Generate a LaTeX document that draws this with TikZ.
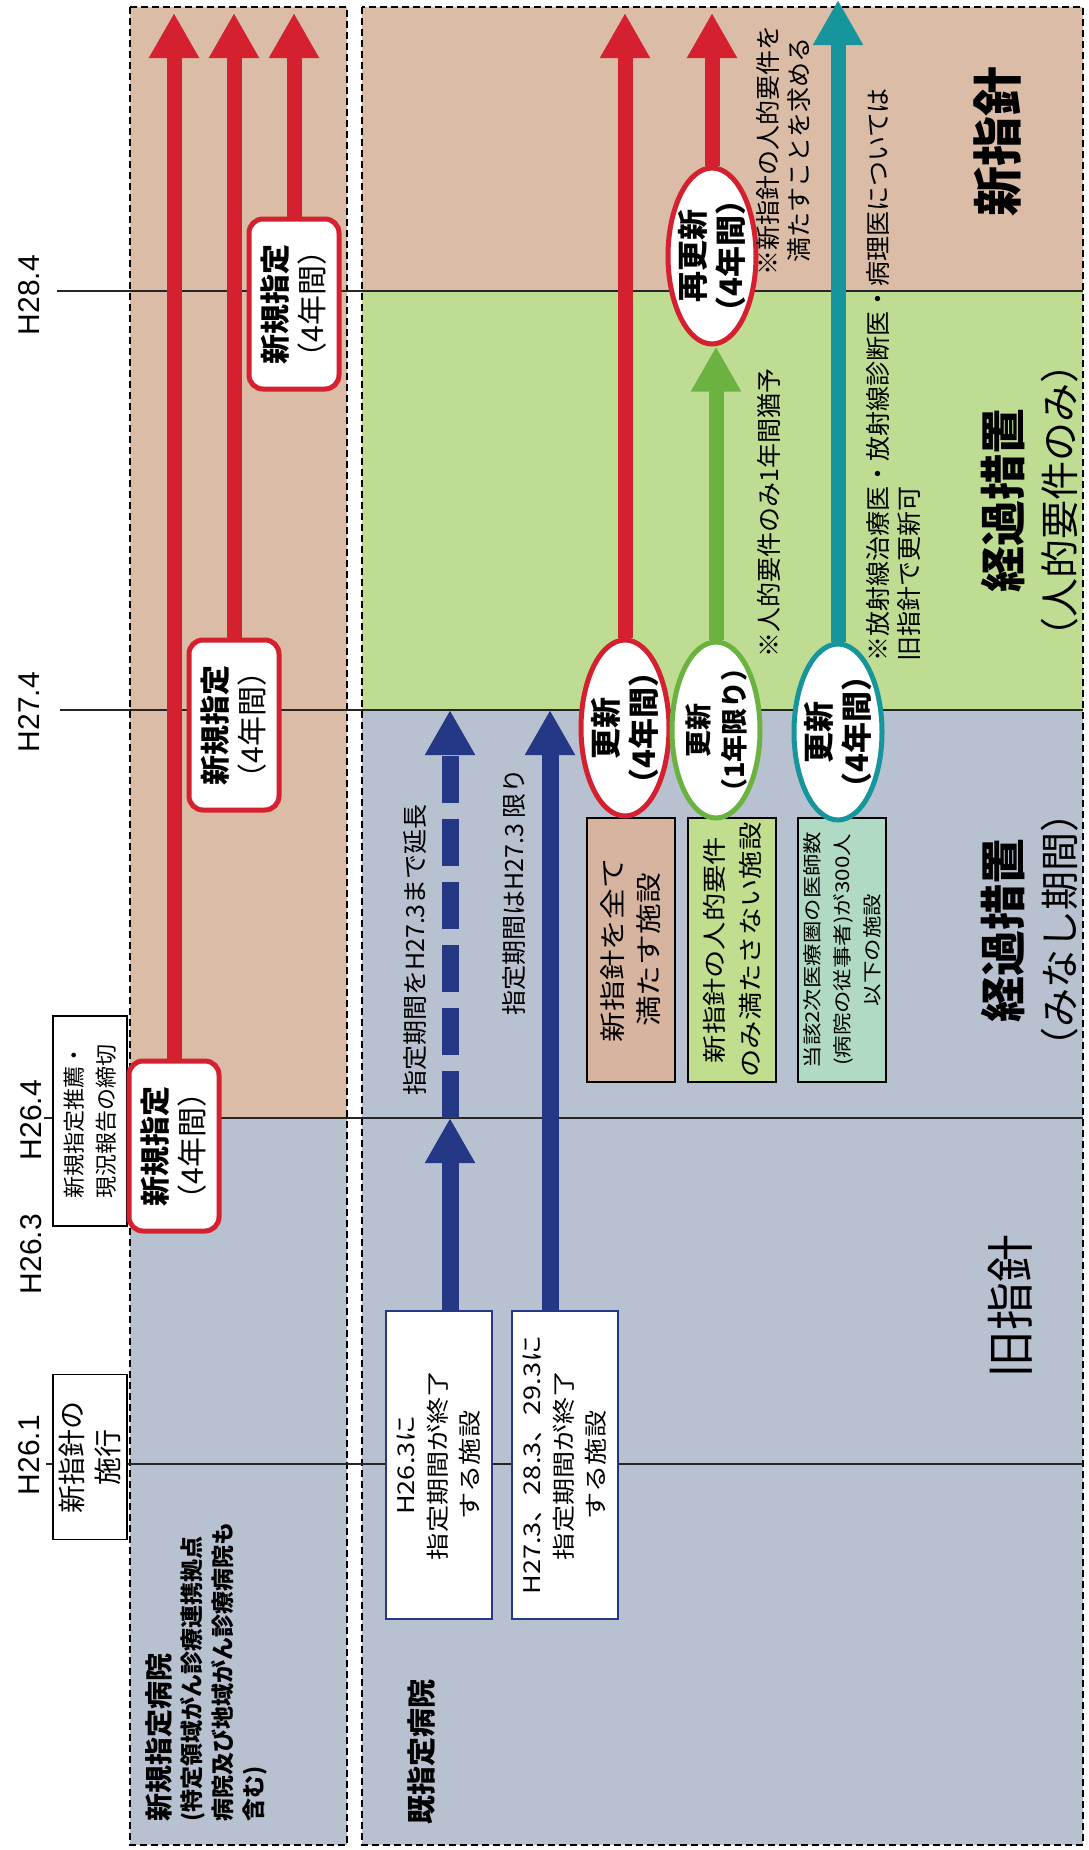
\documentclass[tikz,border=0pt]{standalone}
\usepackage{fontspec}
\setmainfont{Noto Sans CJK JP}
\newfontfamily\widejp{Noto Sans CJK JP}[FakeStretch=1.18]
\newfontfamily\latinsf{Liberation Sans}
\usetikzlibrary{shapes.geometric,arrows.meta}

\definecolor{tanbg}{RGB}{219,188,166}
\definecolor{greenbg}{RGB}{190,220,146}
\definecolor{graybg}{RGB}{184,193,208}
\definecolor{redc}{RGB}{213,32,48}
\definecolor{bluec}{RGB}{36,56,134}
\definecolor{greenc}{RGB}{108,178,64}
\definecolor{tealc}{RGB}{22,150,156}
\definecolor{boxtan}{RGB}{214,180,160}
\definecolor{boxgreen}{RGB}{192,222,142}
\definecolor{boxteal}{RGB}{176,218,196}

\newcommand{\fsz}[2]{\fontsize{#1}{#2}\selectfont}

\begin{document}
\begin{tikzpicture}[x=1pt, y=-1pt,
    redbox/.style={draw=redc, line width=5pt, rounded corners=14pt, fill=white,
                   rotate=90, align=center, inner sep=0pt,
                   minimum width=170pt, minimum height=90pt, font=\fsz{30}{37}},
    oval/.style={ellipse, line width=5pt, fill=white, rotate=90, align=center,
                 inner xsep=-24pt, inner ysep=-12pt,
                 minimum width=176pt, minimum height=88pt, font=\bfseries\fsz{31}{38}},
    plainbox/.style={draw, line width=1.5pt, fill=white, rotate=90, align=center,
                     inner sep=0pt, minimum height=74pt},
    facility/.style={draw, line width=1.5pt, rotate=90, align=center, inner sep=0pt,
                     minimum width=264pt, minimum height=88pt},
    bluebox/.style={draw=bluec, line width=1.5pt, fill=white, rotate=90, align=center,
                    inner sep=0pt, minimum width=308pt, minimum height=106pt,
                    font=\widejp\fsz{23}{32}},
    txt/.style={rotate=90, inner sep=0pt, align=center},
    fat/.style={line width=15pt, -{Triangle[width=47pt,length=45pt]}},
    timeline/.style={line width=1.8pt, black!85}]
  \useasboundingbox (0,0) rectangle (1088,1850);

  % panels
  \fill[tanbg] (130,7) rectangle (347,1118);
  \fill[graybg] (130,1118) rectangle (347,1845);
  \fill[tanbg] (362,7) rectangle (1083,291);
  \fill[greenbg] (362,291) rectangle (1083,710);
  \fill[graybg] (362,710) rectangle (1083,1845);
  \draw[line width=1.3pt, dash pattern=on 7pt off 4pt] (130,7) rectangle (347,1845);
  \draw[line width=1.3pt, dash pattern=on 7pt off 4pt] (362,7) rectangle (1083,1845);

  % time axis
  \coordinate (top) at (0,13);
  \coordinate (rim) at (1083,0);
  \coordinate (h284) at (57,291);
  \coordinate (h274) at (60,710);
  \coordinate (h264) at (44,1118);
  \coordinate (h261) at (46,1464);
  \foreach \t in {h284,h274,h264,h261}
    \draw[timeline] (\t) -- (\t -| rim);

  \node[txt, font=\latinsf\fsz{30}{30}] (l284) at (29,295) {H28.4};
  \node[txt, font=\latinsf\fsz{30}{30}] (l274) at (29,712) {H27.4};
  \node[txt, font=\latinsf\fsz{30}{30}] (l264) at (31,1120) {H26.4};
  \node[txt, font=\latinsf\fsz{30}{30}] (l263) at (31,1254) {H26.3};
  \node[txt, font=\latinsf\fsz{30}{30}] (l261) at (29,1455) {H26.1};

  \node[plainbox, minimum width=210pt, font=\fsz{22}{32}] (rec) at (90,1121)
    {新規指定推薦・\\現況報告の締切};
  \node[plainbox, minimum width=165pt, font=\fsz{28}{36}] (enf) at (90,1457)
    {新指針の\\施行};

  % new hospitals
  \node[redbox] (nb1) at (174,1146) {\textbf{新規指定}\\（4年間）};
  \node[redbox] (nb2) at (234,725) {\textbf{新規指定}\\（4年間）};
  \node[redbox] (nb3) at (294,304) {\textbf{新規指定}\\（4年間）};
  \draw[fat, redc] (nb1.east) -- (nb1.east |- top);
  \draw[fat, redc] (nb2.east) -- (nb2.east |- top);
  \draw[fat, redc] (nb3.east) -- (nb3.east |- top);
  \node[txt, anchor=north west, align=left, font=\bfseries\fsz{23}{31}] (newhosp) at (145,1822)
    {{\fsz{28}{40}新規指定病院}\\(特定領域がん診療連携拠点\\病院及び地域がん診療病院も\\含む)};

  % designated hospitals
  \node[txt, font=\bfseries\fsz{29}{36}] (oldhosp) at (422,1752) {既指定病院};
  \node[bluebox] (b1) at (439,1465) {H26.3に\\指定期間が終了\\する施設};
  \node[bluebox] (b2) at (565,1465) {H27.3、28.3、29.3に\\指定期間が終了\\する施設};
  \coordinate (dash0) at (450,1118);
  \draw[fat, bluec, line width=17pt] ([xshift=11pt]b1.east) -- ([xshift=11pt]b1.east |- h264);
  \draw[fat, bluec, line width=17pt, dash pattern=on 47pt off 16pt] (dash0) -- (dash0 |- h274);
  \draw[fat, bluec, line width=17pt] ([xshift=-15pt]b2.east) -- ([xshift=-15pt]b2.east |- h274);
  \node[txt, font=\fsz{25}{30}] (ext) at (415,950) {指定期間をH27.3まで延長};
  \node[txt, font=\fsz{25}{30}] (lim) at (514,892) {指定期間はH27.3 限り};

  \node[facility, fill=boxtan, font=\widejp\fsz{26}{36}] (fa1) at (631,950)
    {新指針を全て\\満たす施設};
  \node[facility, fill=boxgreen, font=\widejp\fsz{24}{36}] (fa2) at (732,950)
    {新指針の人的要件\\のみ満たさない施設};
  \node[facility, fill=boxteal, font=\widejp\fsz{19}{30}] (fa3) at (842,950)
    {当該2次医療圏の医師数\\(病院の従事者)が300人\\以下の施設};

  \node[oval, draw=redc] (rn1) at (625,728) {更新\\（4年間）};
  \node[oval, draw=greenc, font=\bfseries\fsz{27}{36}] (rn2) at (716,730) {更新\\（1年限り）};
  \node[oval, draw=tealc] (rn3) at (838,732) {更新\\（4年間）};
  \node[oval, draw=redc] (rr) at (712,256) {再更新\\（4年間）};
  \draw[fat, redc] (rn1.east) -- (rn1.east |- top);
  \draw[fat, greenc] (rn2.east) -- (rn2.east |- rr.west);
  \draw[fat, redc] (rr.east) -- (rr.east |- top);
  \draw[fat, tealc] (rn3.east) -- (rn3.east |- rim);

  \node[txt, font=\fsz{25}{31}] (n1) at (783,150) {※新指針の人的要件を\\満たすことを求める};
  \node[txt, font=\fsz{25}{31}] (n2) at (769,513) {※人的要件のみ1年間猶予};
  \node[txt, anchor=north west, align=left, font=\fsz{25}{31}] (n3) at (866,662)
    {※放射線治療医・放射線診断医・病理医については\\旧指針で更新可};

  % phases
  \node[txt, font=\bfseries\fsz{50}{56}] (ph1) at (997,141) {新指針};
  \node[txt, font=\fsz{39}{54}] (ph2) at (1030,500) {\textbf{\fsz{46}{54}経過措置}\\（人的要件のみ）};
  \node[txt, font=\fsz{39}{54}] (ph3) at (1030,930) {\textbf{\fsz{46}{54}経過措置}\\（みなし期間）};
  \node[txt, font=\fsz{48}{54}] (ph4) at (1010,1306) {旧指針};
\end{tikzpicture}
\end{document}
